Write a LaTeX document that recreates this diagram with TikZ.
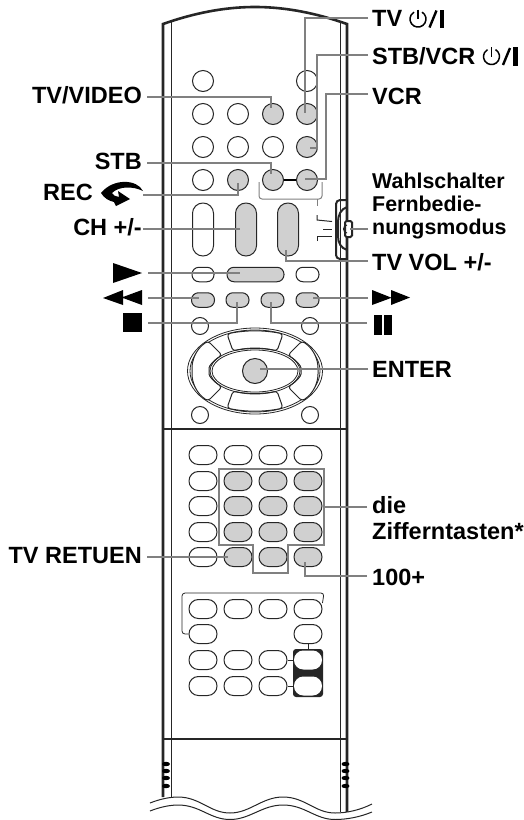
\documentclass[tikz,border=0pt]{standalone}
\usepackage{fontspec}
\setmainfont{Liberation Sans}
\usetikzlibrary{calc}
\definecolor{keygray}{HTML}{D0D0D0}
\definecolor{leadgray}{HTML}{808080}
\definecolor{inkdark}{HTML}{262626}
\tikzset{
 x=1pt,y=-1pt,
 roundkey/.style={circle,draw=inkdark,line width=1pt,inner sep=0pt,minimum size=21pt,fill=white},
 smallround/.style={roundkey,minimum size=17pt},
 graykey/.style={fill=keygray},
 pill/.style={rounded corners=7pt,draw=inkdark,line width=1pt,inner sep=0pt,fill=white,minimum width=23pt,minimum height=14.5pt},
 padkey/.style={rounded corners=9.4pt,draw=inkdark,line width=1pt,inner sep=0pt,fill=white,minimum width=28pt,minimum height=19pt},
 tallkey/.style={rounded corners=10.4pt,draw=inkdark,line width=1pt,inner sep=0pt,fill=white,minimum width=21pt,minimum height=53pt},
 leader/.style={draw=leadgray,line width=1.4pt},
 body/.style={draw=inkdark,line width=1pt},
 thickbody/.style={draw=inkdark,line width=2.6pt},
 lab/.style={font=\fontsize{23.5}{23.5}\selectfont\bfseries,inner sep=0pt,text=black},
 rlab/.style={lab,anchor=base east},
 llab/.style={lab,anchor=base west},
 small/.style={font=\fontsize{21.4}{23}\selectfont\bfseries,inner sep=0pt,anchor=base west},
 sym/.style={fill=black,draw=none},
}
\begin{document}
\begin{tikzpicture}
\useasboundingbox (0,0) rectangle (523,820);
% body
\draw[thickbody] (163,797) -- (163,24) .. controls (200,11) and (230,7) .. (255,7) .. controls (280,7) and (310,11) .. (347,24) -- (347,812);
\draw[body] (171,798) -- (171,22);
\draw[body] (340,812) -- (340,22);
\draw[thickbody] (163,429) -- (347,429);
\draw[thickbody] (163,739) -- (347,739);
% side grips
\foreach \yy in {764,771,778,786}{
 \fill[black] (166,\yy) ellipse (4 and 2.2);
 \fill[black] (345.5,\yy) ellipse (4 and 2.2);
}
% wave
\fill[white] (150,803) .. controls (160,799) and (170,797) .. (178,797) .. controls (200,797) and (210,813) .. (230,813) .. controls (250,813) and (262,797) .. (283,797) .. controls (305,797) and (315,813) .. (335,813) .. controls (347,813) and (360,810) .. (372,804) -- (372,820) -- (150,820) -- cycle;
\draw[body] (150,803) .. controls (160,799) and (170,797) .. (178,797) .. controls (200,797) and (210,813) .. (230,813) .. controls (250,813) and (262,797) .. (283,797) .. controls (305,797) and (315,813) .. (335,813) .. controls (347,813) and (360,810) .. (372,804);
\draw[body] (150,811) .. controls (160,807) and (170,805) .. (178,805) .. controls (200,805) and (210,819.5) .. (230,819.5) .. controls (250,819.5) and (262,805) .. (283,805) .. controls (305,805) and (315,819.5) .. (335,819.5) .. controls (347,819.5) and (360,817) .. (372,812);
% slider
\draw[draw=inkdark,line width=2pt,rounded corners=4pt] (347,200) -- (336,200) -- (336,259) -- (347,259);
\draw[draw=inkdark,line width=2pt] (347,207) .. controls (341,209) and (338,215) .. (338,222) -- (338,236) .. controls (338,243) and (341,248) .. (347,250);
\draw[draw=inkdark,line width=2pt,rounded corners=1.5pt,fill=white] (345,221) -- (352,221) -- (352,237) -- (345,237) -- cycle;
\draw[draw=inkdark,line width=1pt] (347,225) arc (270:90:3.5 and 4);
% mode marks
\draw[leadgray,line width=1pt] (317,199) -- (317,206);
\draw[inkdark,line width=1pt] (317,215) -- (317,220) -- (332,221.5);
\draw[inkdark,line width=1pt] (323,229) -- (332,229);
\draw[inkdark,line width=1pt] (317,241) -- (317,236) -- (332,236);
% keys row circles
\node[roundkey] (c11) at (203,81) {};
\node[roundkey] (c14) at (307,81) {};
\node[roundkey] (c21) at (203,114) {};
\node[roundkey] (c22) at (238,114) {};
\node[roundkey,graykey] (tvvideo) at (273,114) {};
\node[roundkey,graykey] (tvpow) at (307,114) {};
\node[roundkey] (c31) at (203,147) {};
\node[roundkey] (c32) at (238,147) {};
\node[roundkey] (c33) at (273,147) {};
\node[roundkey,graykey] (stbpow) at (307,147) {};
\node[roundkey] (c41) at (203,180) {};
\node[roundkey,graykey] (rec) at (238,180) {};
\node[roundkey,graykey] (stb) at (273,180) {};
\node[roundkey,graykey] (vcr) at (307,180) {};
\draw[black,line width=1.6pt] (stb) -- (vcr);
\draw[draw=leadgray,line width=1pt,rounded corners=3pt] (259,182) -- (259,199) -- (322,199) -- (322,182);
% tall keys
\node[tallkey] (t1) at (203,229.5) {};
\node[tallkey,graykey] (ch) at (246,229.5) {};
\node[tallkey,graykey] (vol) at (288,229.5) {};
% pills
\node[pill,minimum width=22pt] (p1) at (203,274.5) {};
\node[pill,graykey,minimum width=57pt] (play) at (255.5,274.5) {};
\node[pill] (p3) at (307.5,274.5) {};
\node[pill,graykey] (rew) at (203,300) {};
\node[pill,graykey] (stopk) at (237.5,300) {};
\node[pill,graykey] (pausek) at (272.5,300) {};
\node[pill,graykey] (ff) at (307.5,300) {};
\node[smallround] (s1) at (200,326) {};
\node[smallround] (s2) at (310,326) {};
\node[smallround] (s3) at (200,415) {};
\node[smallround] (s4) at (310,415) {};
% d-pad
\draw[body,line width=.8pt] (255,371) ellipse (67.5 and 43);
\draw[body,line width=.8pt] (255,371) ellipse (65 and 41);
\draw[body,rounded corners=3pt,fill=white] (227,334) .. controls (245,330) and (265,330) .. (283,334) -- (277,351) .. controls (265,348) and (245,348) .. (233,351) -- cycle;
\draw[body,rounded corners=3pt,fill=white] (227,408) .. controls (245,412) and (265,412) .. (283,408) -- (277,391) .. controls (265,394) and (245,394) .. (233,391) -- cycle;
\draw[body,rounded corners=3pt,fill=white] (208,341) .. controls (196,349) and (192,360) .. (192,371) .. controls (192,382) and (196,393) .. (208,401) -- (222,387) .. controls (213,381) and (209,376) .. (209,371) .. controls (209,366) and (213,361) .. (222,355) -- cycle;
\draw[body,rounded corners=3pt,fill=white] (302,341) .. controls (314,349) and (318,360) .. (318,371) .. controls (318,382) and (314,393) .. (302,401) -- (288,387) .. controls (297,381) and (301,376) .. (301,371) .. controls (301,366) and (297,361) .. (288,355) -- cycle;
\draw[body,line width=.8pt] (255,371) ellipse (45 and 23);
\draw[body,line width=.8pt] (255,371) ellipse (43 and 21);
\node[circle,draw=inkdark,line width=1pt,fill=keygray,minimum size=25pt,inner sep=0pt] (enter) at (255,371) {};
% numeric pad
\foreach \r/\yy in {a/455,b/481,c/506,d/532,e/557,f/609,g/634,h/660,i/686}{
 \foreach \c/\xx in {1/203,2/238,3/273,4/308}{
  \coordinate (pos\r\c) at (\xx,\yy);
 }
}
\foreach \n in {a1,a2,a3,a4,b1,c1,d1,e1,f1,f2,f3,f4,g1,g4,h1,h2,h3,i1,i2,i3}{
 \node[padkey] (k\n) at (pos\n) {};
}
\foreach \n in {b2,b3,b4,c2,c3,c4,d2,d3,d4,e2,e3,e4}{
 \node[padkey,graykey] (k\n) at (pos\n) {};
}
\draw[draw=leadgray,line width=1.4pt] (219,469) -- (324,469) -- (324,545) -- (288,545) -- (288,573) -- (253,573) -- (253,545) -- (219,545) -- cycle;
\draw[draw=inkdark,line width=.8pt,rounded corners=3pt] (kf4.north east) ++(0,4) -- (324,593) -- (182,593) -- (182,634) -- (kg1.west);
\draw[draw=inkdark,line width=.8pt] (kg4.south) -- (308,650);
\fill[inkdark,rounded corners=3pt] (293,649) rectangle (323,697);
\draw[inkdark,line width=.8pt] (kh3.east) -- (293,660);
\draw[inkdark,line width=.8pt] (ki3.east) -- (293,686);
\node[padkey,draw=none] (kh4) at (308,660) {};
\node[padkey,draw=none] (ki4) at (308,686) {};
% leaders
\coordinate (tvE) at (368,18);
\coordinate (stbE) at (368,55);
\coordinate (vcrE) at (368,94);
\coordinate (slE) at (368,229);
\coordinate (volE) at (368,261);
\coordinate (ffE) at (368,298);
\coordinate (pauE) at (367,323);
\coordinate (entE) at (368,369);
\coordinate (dieE) at (367,507);
\coordinate (hunE) at (367,576);
\coordinate (tvvW) at (147,97);
\coordinate (stbW) at (147,163);
\coordinate (recW) at (143,195);
\coordinate (chW) at (143,229);
\coordinate (plW) at (148,273);
\coordinate (rewW) at (148,298);
\coordinate (stpW) at (148,323);
\coordinate (retW) at (147,557);
\draw[leader] (tvE) -- (305,18) -- (305,113);
\draw[leader] (stbE) -- (317,55) -- (317,148) -- (310,148);
\draw[leader] (vcrE) -- (326,94) -- (326,179) -- (305,179);
\draw[leader] (tvvW) -- (271,97) -- (271,108);
\draw[leader] (stbW) -- (271,163) -- (271,174);
\draw[leader] (recW) -- (238,195) -- (238,183);
\draw[leader] (chW) -- (240,229);
\draw[leader] (plW) -- (240,273);
\draw[leader] (rewW) -- (199,298);
\draw[leader] (stpW) -- (237,323) -- (237,302);
\draw[leader] (ffE) -- (313,298);
\draw[leader] (pauE) -- (271,323) -- (271,302);
\draw[leader] (entE) -- (260,369);
\draw[leader] (volE) -- (286,261) -- (286,250);
\draw[leader] (slE) -- (350,229);
\draw[leader] (dieE) -- (324,507);
\draw[leader] (hunE) -- (305,576) -- (305,562);
\draw[leader] (retW) -- (228,557);
% labels right
\node[llab] (ltv) at (372,26) {TV};
\node[llab] (lstb) at (372,64) {STB/VCR};
\node[llab] (lvcr) at (372,104) {VCR};
\node[llab] (lvol) at (372,270) {TV VOL +/-};
\node[llab] (lent) at (372,377) {ENTER};
\node[llab] (lhun) at (372,585) {100+};
\node[small] (lsl1) at (372,188) {Wahlschalter};
\node[small] (lsl2) at (372,211) {Fernbedie-};
\node[small] (lsl3) at (372,234) {nungsmodus};
\node[llab] (ldie1) at (372,513) {die};
\node[llab] (ldie2) at (372,539) {Zifferntasten*};
% labels left
\node[rlab] (ltvv) at (142,103) {TV/VIDEO};
\node[rlab] (lstbl) at (142,169) {STB};
\node[rlab] (lrec) at (93,200) {REC};
\node[rlab] (lch) at (142,235) {CH +/-};
\node[rlab] (lret) at (142,563) {TV RETUEN};
% power symbols
\foreach \px/\py in {418/19,491.5/56.5}{
 \begin{scope}[shift={(\px,\py)}]
  \draw[black,line width=1.5pt] (4,-6.9) arc (-60:240:8);
  \draw[black,line width=1.5pt] (0,-9.5) -- (0,0);
  \draw[black,line width=2.4pt] (11.5,8.5) -- (18.5,-8.5);
  \fill[black] (21.5,-9.5) rectangle (26,9);
 \end{scope}
}
% transport symbols
\fill[sym] (113,263) -- (142,273) -- (113,283) -- cycle;
\fill[sym] (142,290) -- (142,305) -- (123,298) -- (123,305) -- (103,298) -- (123,290) -- (123,297) -- cycle;
\fill[sym] (123,313) rectangle (142,332);
\fill[sym] (372,290) -- (391,297.5) -- (391,290) -- (410,297.5) -- (391,305) -- (391,298) -- (372,305) -- cycle;
\fill[sym] (374,315) rectangle (382,335);
\fill[sym] (384,315) rectangle (392,335);
% rec arrow
\fill[sym] (143,191) .. controls (137,179) and (113,178) .. (101,193) .. controls (104,198) and (109,201) .. (114,202) -- (116,206) -- (130,199) -- (118,191) -- (119,197) .. controls (116,197) and (113,195) .. (112,193) .. controls (119,186) and (133,186) .. (143,191) -- cycle;
\end{tikzpicture}
\end{document}
